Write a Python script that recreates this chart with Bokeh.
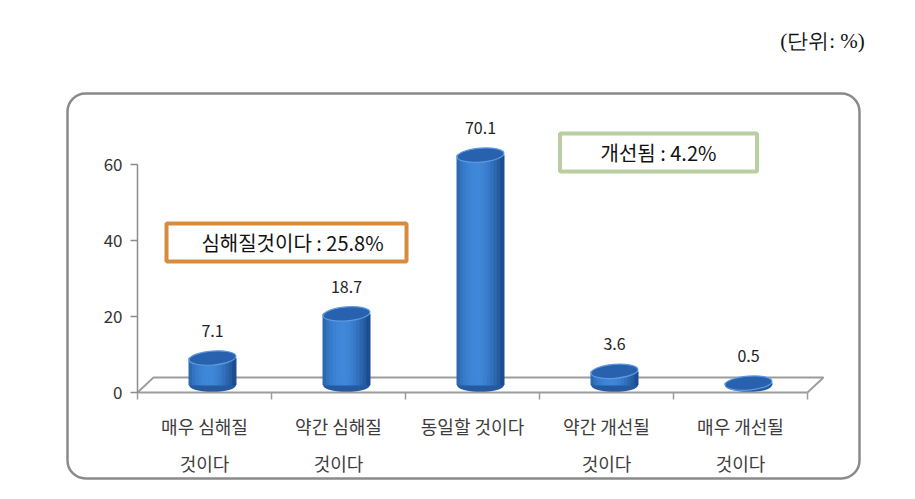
import math
from bokeh.plotting import figure
from bokeh.models import Range1d, LinearAxis, FixedTicker, BoxAnnotation, Label
from bokeh.core.properties import value
from bokeh.embed import file_html
from bokeh.resources import INLINE

# ---------------- data ----------------
categories = ["매우 심해질\n것이다", "약간 심해질\n것이다", "동일할 것이다",
              "약간 개선될\n것이다", "매우 개선될\n것이다"]
values = [7.1, 18.7, 70.1, 3.6, 0.5]
y_ticks = [0, 20, 40, 60]
axis_max_shown = 60.5          # bars taller than this are cut at the chart's top
unit_label = "(단위: %)"
box_worse = "심해질것이다 : 25.8%"
box_better = "개선됨 : 4.2%"

# ---------------- layout helpers (pixel -> data) ----------------
W, H = 915, 499
X0_PX, CAT_PX = 137, 134      # left edge of first category, category width
Y0_PX, UNIT_PX = 392, 3.8     # pixel of value 0, pixels per unit


def px2x(px):
    return (px - X0_PX) / CAT_PX


def py2y(py):
    return (Y0_PX - py) / UNIT_PX


DDX = 16 / CAT_PX            # 3-D depth offsets
DDY = 15 / UNIT_PX
BAR_W = 47 / CAT_PX
FONT = value("Noto Sans CJK KR")

p = figure(width=W, height=H, x_range=Range1d(px2x(0), px2x(W)),
           y_range=Range1d(py2y(H), py2y(0)), output_backend="svg",
           toolbar_location=None, x_axis_location=None, y_axis_location=None,
           min_border=0)
p.outline_line_color = None
p.grid.visible = False
p.background_fill_color = "white"
p.border_fill_color = "white"

# chart border
p.add_layout(BoxAnnotation(left=px2x(67), right=px2x(859), top=py2y(93), bottom=py2y(478),
                           fill_alpha=0, line_color="#8A8A8A", line_alpha=1.0, line_width=2.5,
                           border_radius=18, level="underlay"))

# floor (back line + side diagonals)
n = len(categories)
p.multi_line(xs=[[0, DDX, n + DDX, n], ], ys=[[0, DDY, DDY, 0]],
             line_color="#9C9C9C", line_width=1.8)

# axes
yax = LinearAxis(fixed_location=0, bounds=(0, y_ticks[-1]), ticker=FixedTicker(ticks=y_ticks),
                 axis_line_color="#8C8C8C", axis_line_width=1.5,
                 major_tick_line_color="#8C8C8C", major_tick_line_width=1.5,
                 major_tick_out=7, major_tick_in=0, minor_tick_out=0, minor_tick_in=0,
                 major_label_text_font_size="17px", major_label_text_color="#333333",
                 major_label_text_font="Noto Sans CJK KR", major_label_standoff=8)
p.add_layout(yax, "left")
xax = LinearAxis(fixed_location=0, bounds=(0, n), ticker=FixedTicker(ticks=list(range(n + 1))),
                 axis_line_color="#9C9C9C", axis_line_width=1.8,
                 major_tick_line_color="#9C9C9C", major_tick_line_width=1.5,
                 major_tick_out=7, major_tick_in=0, minor_tick_out=0, minor_tick_in=0,
                 major_label_text_alpha=0)
p.add_layout(xax, "below")

# cylinders
base = DDY / 2
cx = [i + 0.5 + DDX / 2 for i in range(n)]
shown = [min(v, axis_max_shown) for v in values]
tops = [base + s for s in shown]

dark = (27, 74, 140)
light = (64, 136, 218)
NS = 14
sl, sr, st, sb, sc = [], [], [], [], []
for c, t in zip(cx, tops):
    for k in range(NS):
        u = (k + 0.5) / NS
        w = max(0.0, math.cos((u - 0.42) * math.pi / 1.12))
        w = w ** 0.9
        col = tuple(int(d + (l - d) * w) for d, l in zip(dark, light))
        sl.append(c - BAR_W / 2 + k * BAR_W / NS)
        sr.append(c - BAR_W / 2 + (k + 1) * BAR_W / NS)
        st.append(t)
        sb.append(base)
        sc.append("#%02x%02x%02x" % col)

p.ellipse(x=cx, y=[base] * n, width=47, height=14, width_units="screen",
          height_units="screen", fill_color="#2559A0", line_color=None)
p.quad(left=sl, right=sr, top=st, bottom=sb, fill_color=sc, line_color=sc, line_width=1)
p.ellipse(x=cx, y=tops, width=47, height=14, width_units="screen", height_units="screen",
          angle=0.08, fill_color="#2861AD", line_color="#5C9AE2", line_width=1.2)

# value labels
p.text(x=cx, y=[t + 27 / UNIT_PX for t in tops], text=[f"{v}" for v in values],
       text_font=FONT, text_font_size="16px", text_color="#222222",
       text_align="center", text_baseline="middle")

# category labels
line1 = [c.split("\n")[0] for c in categories]
line2 = [c.split("\n")[1] if "\n" in c else "" for c in categories]
cat_x = [i + 0.5 for i in range(n)]
p.text(x=cat_x, y=[py2y(425)] * n, text=line1, text_font=FONT, text_font_size="18px",
       text_color="#3C3C3C", text_align="center", text_baseline="middle")
p.text(x=cat_x, y=[py2y(462)] * n, text=line2, text_font=FONT, text_font_size="18px",
       text_color="#3C3C3C", text_align="center", text_baseline="middle")

# summary boxes
p.rect(x=[px2x(286)], y=[py2y(242)], width=240, height=38, width_units="screen",
       height_units="screen", fill_color="white", line_color="#D68B3E", line_width=4)
p.text(x=[px2x(292)], y=[py2y(242)], text=[box_worse], text_font=FONT, text_font_size="20px",
       text_color="#111111", text_align="center", text_baseline="middle")
p.rect(x=[px2x(658)], y=[py2y(152)], width=197, height=38, width_units="screen",
       height_units="screen", fill_color="white", line_color="#B9CF9F", line_width=4)
p.text(x=[px2x(658)], y=[py2y(152)], text=[box_better], text_font=FONT, text_font_size="20px",
       text_color="#111111", text_align="center", text_baseline="middle")

# unit label
p.add_layout(Label(x=px2x(822), y=py2y(40), text=unit_label, text_font="Liberation Serif",
                   text_font_size="21px", text_color="#111111", text_align="center",
                   text_baseline="middle"))

open("out.html", "w").write(file_html(p, INLINE))
